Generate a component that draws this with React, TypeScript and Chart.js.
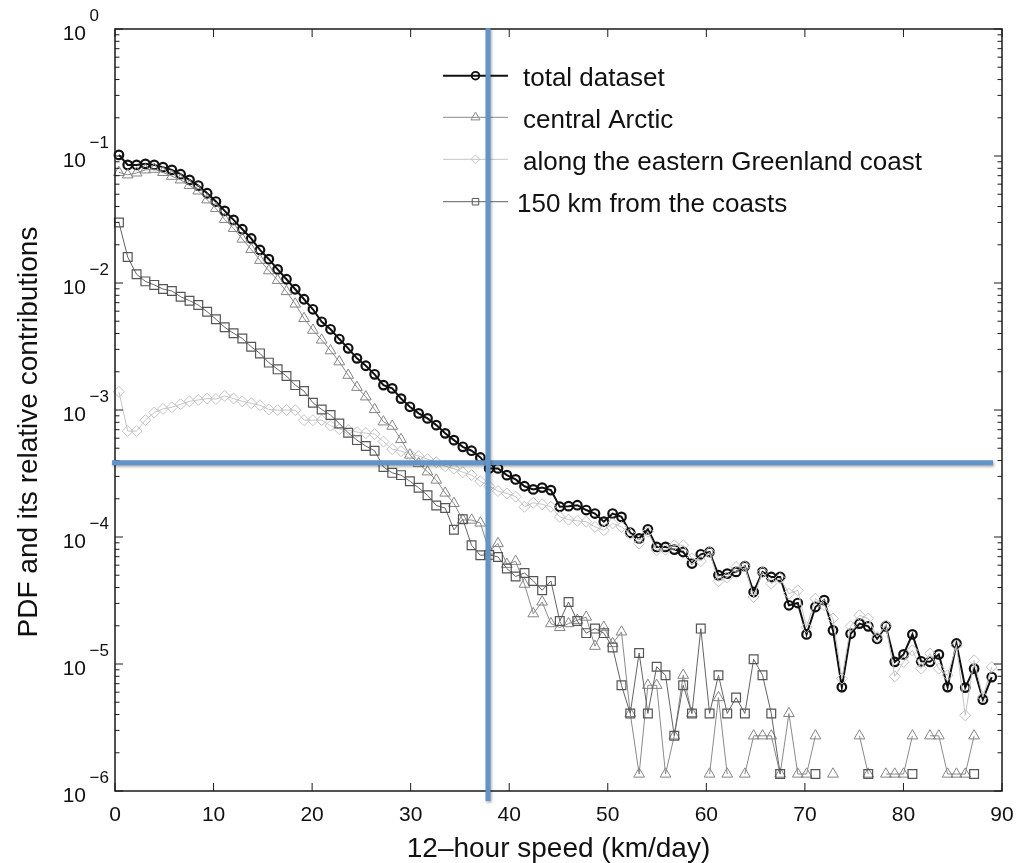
import React, { useEffect, useRef } from 'react';
import { Chart, registerables } from 'chart.js';

Chart.register(...registerables);

// 12-hour speed bins (km/day)
const speeds = [
  0.40, 1.29, 2.19, 3.08, 3.98, 4.87, 5.77, 6.66, 7.56, 8.45,
  9.35, 10.24, 11.13, 12.03, 12.92, 13.82, 14.71, 15.61, 16.50, 17.40,
  18.29, 19.18, 20.08, 20.97, 21.87, 22.76, 23.66, 24.55, 25.45, 26.34,
  27.24, 28.13, 29.02, 29.92, 30.81, 31.71, 32.60, 33.50, 34.39, 35.29,
  36.18, 37.07, 37.97, 38.86, 39.76, 40.65, 41.55, 42.44, 43.34, 44.23,
  45.13, 46.02, 46.91, 47.81, 48.70, 49.60, 50.49, 51.39, 52.28, 53.18,
  54.07, 54.96, 55.86, 56.75, 57.65, 58.54, 59.44, 60.33, 61.23, 62.12,
  63.02, 63.91, 64.80, 65.70, 66.59, 67.49, 68.38, 69.28, 70.17, 71.07,
  71.96, 72.85, 73.75, 74.64, 75.54, 76.43, 77.33, 78.22, 79.12, 80.01,
  80.91, 81.80, 82.69, 83.59, 84.48, 85.38, 86.27, 87.17, 88.06, 88.96,
];

const totalDataset = [
  0.102, 0.0851, 0.0851, 0.0867, 0.0851, 0.0817, 0.0778, 0.0719, 0.0649, 0.0585,
  0.0509, 0.0438, 0.0370, 0.0314, 0.0265, 0.0224, 0.0182, 0.0154, 0.0128, 0.0107,
  0.00893, 0.00745, 0.00621, 0.00495, 0.00432, 0.00362, 0.00306, 0.00255, 0.00223, 0.00191,
  0.00157, 0.00148, 0.00123, 0.00106, 0.00094, 0.000859, 0.00076, 0.000655, 0.000579, 0.000513,
  0.000478, 0.000423, 0.000347, 0.000347, 0.000307, 0.000284, 0.000251, 0.000237, 0.000245, 0.000234,
  0.000173, 0.000175, 0.000178, 0.000163, 0.000153, 0.000132, 0.000153, 0.000144, 0.000108, 0.0000973,
  0.000115, 0.0000836, 0.0000836, 0.0000796, 0.0000762, 0.0000618, 0.0000731, 0.0000762, 0.00005, 0.0000515,
  0.0000531, 0.0000589, 0.0000369, 0.0000531, 0.0000484, 0.0000484, 0.000029, 0.0000302, 0.0000171, 0.0000281,
  0.0000318, 0.0000184, 0.00000658, 0.0000173, 0.0000208, 0.0000198, 0.0000158, 0.0000198, 0.0000104, 0.0000119,
  0.0000171, 0.0000105, 0.0000104, 0.0000119, 0.00000658, 0.0000145, 0.00000652, 0.00000919, 0.00000524, 0.00000789,
];

const centralArctic = [
  0.0743, 0.0711, 0.0736, 0.0778, 0.0787, 0.0743, 0.0693, 0.0649, 0.0587, 0.0531,
  0.0452, 0.0387, 0.0317, 0.0269, 0.0222, 0.0184, 0.0151, 0.0125, 0.0105, 0.00857,
  0.00684, 0.00526, 0.00425, 0.00356, 0.00293, 0.0024, 0.00188, 0.00151, 0.00127, 0.00101,
  0.000807, 0.000746, 0.000586, 0.000442, 0.000379, 0.000326, 0.000281, 0.000222, 0.000184, 0.000136,
  0.000136, 0.000129, 0.0000776, 0.0000889, 0.000061, 0.0000644, 0.0000425, 0.0000249, 0.0000308, 0.0000208,
  0.0000194, 0.0000208, 0.0000221, 0.0000234, 0.0000138, 0.0000195, 0.0000145, 0.0000179, 0.00000408, 0.00000136,
  0.0000068, 0.0000068, 0.00000136, 0.00000272, 0.00000816, 0.00000408, null, 0.00000136, 0.00000544, 0.00000136,
  null, 0.00000136, 0.00000272, 0.00000272, 0.00000272, 0.00000136, 0.00000408, 0.00000136, 0.00000136, 0.00000272,
  null, 0.00000136, null, null, 0.00000272, 0.00000136, null, 0.00000136, 0.00000136, 0.00000136,
  0.00000272, null, 0.00000272, 0.00000272, 0.00000136, 0.00000136, 0.00000136, 0.00000272, null, null,
];

const easternGreenland = [
  0.00139, 0.000682, 0.000682, 0.000832, 0.000955, 0.00102, 0.00105, 0.00111, 0.00117, 0.0012,
  0.00123, 0.00122, 0.00129, 0.00123, 0.00117, 0.00113, 0.00109, 0.00101, 0.000998, 0.000998,
  0.000998, 0.000832, 0.000832, 0.000832, 0.000753, 0.000706, 0.000695, 0.00067, 0.000658, 0.000646,
  0.000564, 0.000492, 0.000474, 0.00045, 0.000434, 0.00041, 0.000388, 0.000361, 0.000345, 0.000324,
  0.000307, 0.000275, 0.000251, 0.00023, 0.00022, 0.000208, 0.000173, 0.000186, 0.000181, 0.000173,
  0.000144, 0.000137, 0.000134, 0.000132, 0.00012, 0.000113, 0.000128, 0.00012, 0.000106, 0.0000889,
  0.00011, 0.0000785, 0.0000794, 0.0000861, 0.0000861, 0.0000676, 0.0000646, 0.0000759, 0.0000448, 0.000048,
  0.0000581, 0.0000589, 0.0000337, 0.0000528, 0.000043, 0.0000473, 0.0000358, 0.000038, 0.0000195, 0.0000327,
  0.000029, 0.0000228, 0.00000767, 0.0000198, 0.0000242, 0.0000228, 0.0000163, 0.0000202, 0.000008, 0.0000104,
  0.0000128, 0.00000919, 0.0000121, 0.00000919, 0.00000815, 0.000014, 0.00000394, 0.0000107, 0.0000055, 0.00000946,
];

const coasts150km = [
  0.0299, 0.016, 0.0117, 0.0103, 0.00966, 0.00897, 0.00865, 0.0078, 0.00726, 0.00671,
  0.00594, 0.00518, 0.00448, 0.00402, 0.00366, 0.00315, 0.00279, 0.00236, 0.00209, 0.00185,
  0.00157, 0.00141, 0.00114, 0.00101, 0.000912, 0.000783, 0.000661, 0.000579, 0.00052, 0.000478,
  0.000356, 0.00032, 0.000307, 0.000275, 0.000244, 0.000213, 0.000177, 0.000169, 0.000114, 0.000138,
  0.0000861, 0.0000718, 0.0000723, 0.0000697, 0.0000565, 0.0000489, 0.0000521, 0.0000451, 0.0000381, 0.000045,
  0.0000218, 0.0000308, 0.0000218, 0.0000175, 0.000019, 0.0000175, 0.0000135, 0.0000068, 0.00000408, 0.0000122,
  0.00000408, 0.00000952, 0.00000816, 0.00000272, 0.0000068, 0.00000408, 0.000019, 0.00000408, 0.00000816, 0.00000408,
  0.00000544, 0.00000408, 0.0000109, 0.00000816, 0.00000408, 0.00000136, null, null, null, 0.00000136,
  null, null, null, null, null, 0.00000136, null, null, null, null,
  0.00000136, null, null, null, null, null, null, 0.00000136, null, null,
];

const seriesNames = [
  'total dataset',
  'central Arctic',
  'along the eastern Greenland coast',
  '150 km from the coasts',
];

const xTickValues = [0, 10, 20, 30, 40, 50, 60, 70, 80, 90];
const xTickLabels = ['0', '10', '20', '30', '40', '50', '60', '70', '80', '90'];
const yDecadeExponents = [0, -1, -2, -3, -4, -5, -6];

const xTitle = '12\u2013hour speed (km/day)';
const yTitle = 'PDF and its relative contributions';

// blue cross-hair annotation (speed, pdf)
const markSpeed = 37.85;
const markPdf = 3.85e-4;

const FONT = '"Liberation Sans", Arial, Helvetica, sans-serif';

const styles = [
  { color: '#111111', line: '#111111', lw: 2, marker: 'circle', r: 4.3, mbw: 2.2, legendR: 3.8, order: 4 },
  { color: '#858585', line: '#8a8a8a', lw: 1, marker: 'triangle', r: 6.2, mbw: 1, legendR: 5.2, order: 3 },
  { color: '#c2c2c2', line: '#c6c6c6', lw: 1, marker: 'rectRot', r: 5.5, mbw: 1, legendR: 4.4, order: 2 },
  { color: '#555555', line: '#636363', lw: 1, marker: 'rect', r: 6.2, mbw: 1.2, legendR: 4.6, order: 1 },
];

function drawMarker(ctx: CanvasRenderingContext2D, style: string, x: number, y: number, r: number) {
  ctx.beginPath();
  if (style === 'circle') {
    ctx.arc(x, y, r, 0, Math.PI * 2);
  } else if (style === 'triangle') {
    ctx.moveTo(x, y - r);
    ctx.lineTo(x + r * 0.866, y + r * 0.5);
    ctx.lineTo(x - r * 0.866, y + r * 0.5);
    ctx.closePath();
  } else if (style === 'rectRot') {
    ctx.moveTo(x, y - r);
    ctx.lineTo(x + r, y);
    ctx.lineTo(x, y + r);
    ctx.lineTo(x - r, y);
    ctx.closePath();
  } else {
    const s = r * Math.SQRT1_2;
    ctx.rect(x - s, y - s, 2 * s, 2 * s);
  }
  ctx.stroke();
}

const decorPlugin = {
  id: 'matlabDecor',
  afterDatasetsDraw(chart: any) {
    const { ctx, chartArea: a, scales } = chart;
    const xs = scales.x;
    const ys = scales.y;
    ctx.save();

    // frame
    ctx.strokeStyle = '#1a1a1a';
    ctx.lineWidth = 1.5;
    ctx.strokeRect(a.left, a.top, a.right - a.left, a.bottom - a.top);

    const seg = (x1: number, y1: number, x2: number, y2: number) => {
      ctx.beginPath();
      ctx.moveTo(x1, y1);
      ctx.lineTo(x2, y2);
      ctx.stroke();
    };

    // x ticks (inward, bottom & top)
    ctx.lineWidth = 1;
    xTickValues.forEach((v) => {
      const px = xs.getPixelForValue(v);
      seg(px, a.bottom, px, a.bottom - 8);
      seg(px, a.top, px, a.top + 8);
    });

    // y ticks (log, inward, left & right)
    yDecadeExponents.forEach((d) => {
      const py = ys.getPixelForValue(Math.pow(10, d));
      seg(a.left, py, a.left + 8, py);
      seg(a.right, py, a.right - 8, py);
      if (d < 0) {
        for (let m = 2; m <= 9; m++) {
          const pm = ys.getPixelForValue(m * Math.pow(10, d));
          seg(a.left, pm, a.left + 4.5, pm);
          seg(a.right, pm, a.right - 4.5, pm);
        }
      }
    });

    // x tick labels
    ctx.fillStyle = '#111111';
    ctx.font = `21px ${FONT}`;
    ctx.textAlign = 'center';
    ctx.textBaseline = 'alphabetic';
    xTickValues.forEach((v, i) => {
      ctx.fillText(xTickLabels[i], xs.getPixelForValue(v), a.bottom + 29.5);
    });

    // y tick labels 10^k
    yDecadeExponents.forEach((d) => {
      const py = ys.getPixelForValue(Math.pow(10, d));
      ctx.font = `21px ${FONT}`;
      ctx.textAlign = 'right';
      ctx.fillText('10', a.left - 29, py + 11);
      ctx.font = `17px ${FONT}`;
      ctx.textAlign = 'left';
      const sup = d === 0 ? '0' : '\u2212' + String(-d);
      ctx.fillText(sup, a.left - 25.5, py - 8.5);
    });

    // axis titles
    ctx.font = `28px ${FONT}`;
    ctx.textAlign = 'center';
    ctx.fillText(xTitle, (a.left + a.right) / 2, 857);
    ctx.save();
    ctx.translate(37, 432);
    ctx.rotate(-Math.PI / 2);
    ctx.fillText(yTitle, 0, 0);
    ctx.restore();

    // legend
    const lineY = [75.7, 117.3, 159.3, 201.7];
    const textX = [523, 523, 523, 517];
    styles.forEach((s, i) => {
      ctx.strokeStyle = s.line;
      ctx.lineWidth = s.lw;
      seg(443, lineY[i], 508, lineY[i]);
      ctx.strokeStyle = s.color;
      ctx.lineWidth = s.mbw > 2 ? 1.9 : 1;
      drawMarker(ctx, s.marker, 475.5, lineY[i], s.legendR);
      ctx.fillStyle = '#111111';
      ctx.font = `26px ${FONT}`;
      ctx.textAlign = 'left';
      ctx.fillText(seriesNames[i], textX[i], lineY[i] + 10.7);
    });

    ctx.restore();
  },
  afterDraw(chart: any) {
    const { ctx, chartArea: a, scales } = chart;
    const px = scales.x.getPixelForValue(markSpeed);
    const py = scales.y.getPixelForValue(markPdf);
    ctx.save();
    ctx.strokeStyle = '#6294c8';
    ctx.lineWidth = 5;
    ctx.shadowColor = 'rgba(0,0,0,0.35)';
    ctx.shadowBlur = 3;
    ctx.shadowOffsetX = 1;
    ctx.shadowOffsetY = 1.5;
    ctx.beginPath();
    ctx.moveTo(a.left - 3, py);
    ctx.lineTo(a.right - 9, py);
    ctx.stroke();
    ctx.beginPath();
    ctx.moveTo(px, a.top - 1);
    ctx.lineTo(px, a.bottom + 10);
    ctx.stroke();
    ctx.restore();
  },
};

const seriesValues = [totalDataset, centralArctic, easternGreenland, coasts150km];

export default function App() {
  const canvasRef = useRef<HTMLCanvasElement | null>(null);

  useEffect(() => {
    if (!canvasRef.current) return;
    const datasets = seriesValues.map((vals, k) => {
      const s = styles[k];
      return {
        label: seriesNames[k],
        data: speeds.map((x, i) => ({ x, y: vals[i] })),
        borderColor: s.line,
        borderWidth: s.lw,
        pointStyle: s.marker,
        pointRadius: s.r,
        pointBorderWidth: s.mbw,
        pointBorderColor: s.color,
        pointBackgroundColor: 'rgba(0,0,0,0)',
        pointHoverRadius: s.r,
        spanGaps: false,
        tension: 0,
        fill: false,
        order: s.order,
        clip: false as any,
      };
    });

    const chart = new Chart(canvasRef.current, {
      type: 'line',
      data: { datasets: datasets as any },
      options: {
        animation: false,
        responsive: true,
        maintainAspectRatio: false,
        devicePixelRatio: 1,
        events: [],
        layout: { padding: { left: 115, top: 29, right: 21, bottom: 72 } },
        scales: {
          x: { type: 'linear', min: 0, max: 90, display: false },
          y: { type: 'logarithmic', min: 1e-6, max: 1, display: false },
        },
        plugins: {
          legend: { display: false },
          tooltip: { enabled: false },
        },
      },
      plugins: [decorPlugin],
    });
    return () => chart.destroy();
  }, []);

  return (
    <div style={{ position: 'fixed', left: 0, top: 0, width: 1023, height: 863, background: '#ffffff' }}>
      <canvas ref={canvasRef} />
    </div>
  );
}
